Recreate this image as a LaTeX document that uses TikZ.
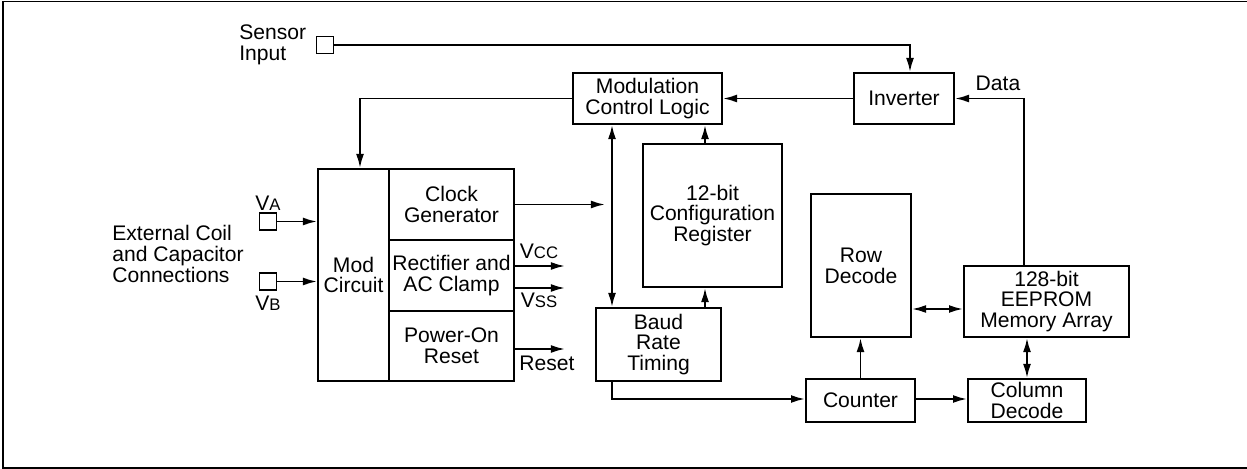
\documentclass[tikz,border=0pt]{standalone}
\usepackage{fontspec}
\setmainfont{Liberation Sans}
\usetikzlibrary{arrows.meta,calc}

\newcommand{\sv}[1]{V{\fontsize{9.5}{9.5}\selectfont #1}}

\begin{document}
\begin{tikzpicture}[x=0.02cm,y=-0.02cm,
    blk/.style={draw=black,line width=1.1pt,align=center,inner sep=0pt,
      font=\fontsize{12}{11.8}\selectfont},
    pin/.style={draw=black,line width=1.1pt,minimum size=0.34cm,inner sep=0pt},
    lbl/.style={inner sep=0pt,align=left,font=\fontsize{12}{11.8}\selectfont},
    flow/.style={-{Latex[length=8pt,width=4.5pt]},line width=1.1pt},
    both/.style={{Latex[length=8pt,width=4.5pt]}-{Latex[length=8pt,width=4.5pt]},line width=1.1pt}
  ]
    \useasboundingbox (0,0) rectangle (1247,469);
    \draw[line width=1.1pt] (1247,1.5) -- (3,1.5) -- (3,468) -- (1247,468);

    % blocks
    \node[blk,minimum width=2.98cm,minimum height=1.02cm] (mcl) at (647.5,98.5) {Modulation\\Control Logic};
    \node[blk,minimum width=2cm,minimum height=1.02cm] (inv) at (904,98.5) {Inverter};
    \node[blk,minimum width=2.78cm,minimum height=2.86cm] (cfg) at (712.5,215.5) {12-bit\\Configuration\\Register};
    \node[blk,minimum width=1.42cm,minimum height=4.24cm] (modc) at (353.5,275) {Mod\\Circuit};
    \node[blk,minimum width=2.5cm,minimum height=1.42cm] (clk) at (451.5,204.5) {Clock\\Generator};
    \node[blk,minimum width=2.5cm,minimum height=1.42cm] (rect) at (451.5,275.5) {Rectifier and\\AC Clamp};
    \node[blk,minimum width=2.5cm,minimum height=1.4cm] (por) at (451.5,346) {Power-On\\Reset};
    \node[blk,minimum width=2.5cm,minimum height=1.46cm] (baud) at (658.5,344.5) {Baud\\Rate\\Timing};
    \node[blk,minimum width=2cm,minimum height=2.86cm] (row) at (861,265.5) {Row\\Decode};
    \node[blk,minimum width=3.3cm,minimum height=1.42cm] (eep) at (1046.5,301.5) {128-bit\\EEPROM\\Memory Array};
    \node[blk,minimum width=2.18cm,minimum height=0.86cm] (cnt) at (860.5,400.5) {Counter};
    \node[blk,minimum width=2.36cm,minimum height=0.86cm] (col) at (1027,400.5) {Column\\Decode};

    % pins and labels
    \node[pin] (sens) at (325,45) {};
    \node[pin] (va) at (268,221.5) {};
    \node[pin] (vb) at (268,281.5) {};
    \node[lbl,anchor=west] (senslbl) at (239,45) {Sensor\\Input};
    \node[lbl,anchor=west] (coil) at (112,254) {External Coil\\and Capacitor\\Connections};
    \node[lbl] (valbl) at (268,203) {\sv{A}};
    \node[lbl] (vblbl) at (268,303) {\sv{B}};
    \node[lbl] (vcc) at (539,251) {\sv{CC}};
    \node[lbl] (vss) at (539,300) {\sv{SS}};
    \node[lbl] (rst) at (547,363) {Reset};
    \node[lbl] (data) at (998,83) {Data};

    \coordinate (bus) at (612,0);
    \coordinate (cfx) at (705,0);
    \coordinate (dx) at (1024,0);
    \coordinate (clkend) at (605,204.5);
    \coordinate (vccend) at (565,266);
    \coordinate (vssend) at (565,288);
    \coordinate (rstend) at (565,349);

    % connectors
    \draw[flow] (sens.east) -| ($(inv.north)+(6,0)$);
    \draw[flow] (inv.west) -- (mcl.east);
    \draw[flow] (mcl.west) -| ($(modc.north)+(6.5,0)$);
    \draw[flow] (va.east) -- (va.east -| modc.west);
    \draw[flow] (vb.east) -- (vb.east -| modc.west);
    \draw[flow] (clk.east) -- (clkend);
    \draw[flow] (rect.east |- vccend) -- (vccend);
    \draw[flow] (rect.east |- vssend) -- (vssend);
    \draw[flow] (por.east |- rstend) -- (rstend);
    \draw[both] (mcl.south -| bus) -- (baud.north -| bus);
    \draw[flow] (cfg.north -| cfx) -- (mcl.south -| cfx);
    \draw[flow] (baud.north -| cfx) -- (cfg.south -| cfx);
    \draw[flow] (baud.south -| bus) |- ($(cnt.west)+(0,-1.5)$);
    \draw[flow] (cnt.north) -- (row.south -| cnt.north);
    \draw[flow] ($(cnt.east)+(0,-1.5)$) -- ($(col.west)+(0,-1.5)$);
    \draw[both] ($(row.east)+(0,43.5)$) -- ($(eep.west)+(0,7.5)$);
    \draw[both] (eep.south -| col.north) -- (col.north);
    \draw[flow] (eep.north -| dx) |- (inv.east);
\end{tikzpicture}
\end{document}
